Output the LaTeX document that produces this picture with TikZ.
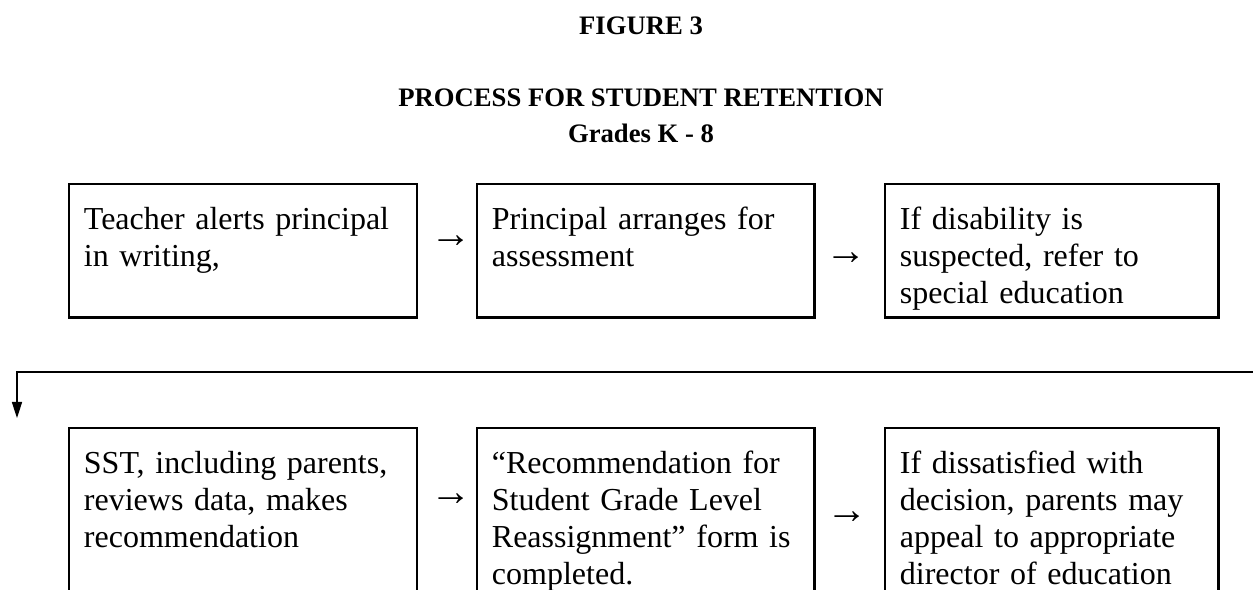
\documentclass[tikz,border=0pt]{standalone}
\usepackage{fontspec}
\setmainfont{Liberation Serif}
\usetikzlibrary{arrows.meta,positioning}
\tikzset{
  stage/.style={draw, line width=1.1pt, outer sep=0pt, anchor=north west, align=left, inner xsep=5.6pt, inner ysep=7.5pt, text height=9.7pt},
  toprow/.style={stage, text depth=25.2pt},
  lowrow/.style={stage, text depth=70pt},
  glyph/.style={inner sep=0pt, font=\fontsize{15.5pt}{15.5pt}\selectfont},
  heading/.style={font=\bfseries, anchor=base},
  wrap/.style={-{Triangle[length=6pt,width=3.8pt]}, line width=0.4pt}
}

\begin{document}
\begin{tikzpicture}[x=0.375pt, y=-0.375pt, font=\fontsize{12pt}{13.8pt}\selectfont]
  \useasboundingbox (0,0) rectangle (1253,590);
  \clip (0,0) rectangle (1253,590);

  \node[heading] (fig) at (641,35) {FIGURE 3};
  \node[heading] (title) at (641,107) {PROCESS FOR STUDENT RETENTION};
  \node[heading] (grades) at (641,143) {Grades K - 8};

  \node[toprow, text width=119.3pt] (teacher) at (69,184) {Teacher alerts principal\\in writing,};
  \node[toprow, text width=115.2pt, right=22.5pt of teacher] (assess) {Principal arranges for\\assessment};
  \node[toprow, text width=114pt, right=26.6pt of assess] (refer) {If disability is\\suspected, refer to\\special education};

  \node[lowrow, text width=119.3pt, below=41.6pt of teacher] (sst) {SST, including parents,\\reviews data, makes\\recommendation};
  \node[lowrow, text width=115.2pt, right=22.5pt of sst] (form) {“Recommendation for\\Student Grade Level\\Reassignment” form is\\completed.};
  \node[lowrow, text width=114pt, right=26.6pt of form] (appeal) {If dissatisfied with\\decision, parents may\\appeal to appropriate\\director of education};

  \node[glyph] (step1) at (451,242) {→};
  \node[glyph] (step2) at (846.5,259) {→};
  \node[glyph] (step3) at (451,500) {→};
  \node[glyph] (step4) at (847,518) {→};

  \coordinate (wrapin) at (1260,372);
  \coordinate (wrapout) at (17,418);
  \draw[wrap] (wrapin) -| (wrapout);
\end{tikzpicture}
\end{document}
